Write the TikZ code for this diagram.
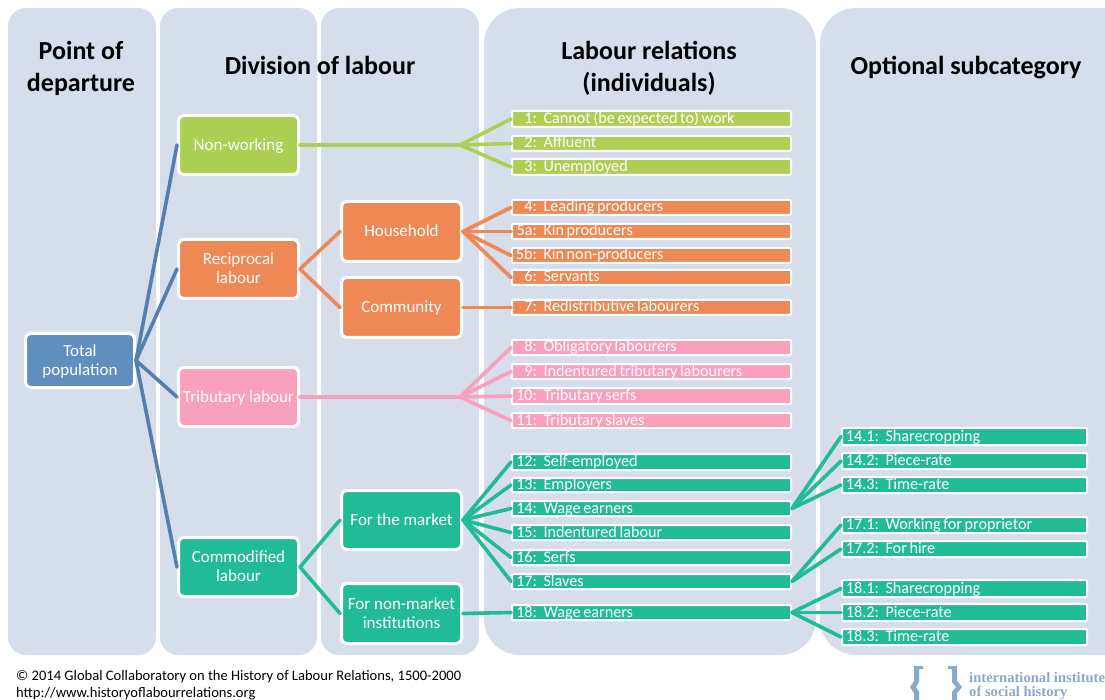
\documentclass[tikz,border=0pt]{standalone}
\usepackage{fontspec}
\setmainfont{Carlito}
\newfontfamily\logofont{Liberation Serif}
\definecolor{panel}{HTML}{D6DEEB}
\definecolor{cblue}{HTML}{5F8FBF}
\definecolor{lblue}{HTML}{5580AE}
\definecolor{cgreen}{HTML}{ADCF53}
\definecolor{corange}{HTML}{EE8855}
\definecolor{cpink}{HTML}{F8A0BC}
\definecolor{cteal}{HTML}{22BB98}
\definecolor{clogo}{HTML}{8AA8CC}
\tikzset{
  panelbox/.style={fill=panel,rounded corners=#1},
  titletext/.style={font=\fontsize{26}{32}\selectfont\bfseries,align=center,text=black,inner sep=0},
  bigstyle/.style={draw=white,line width=3pt,rounded corners=5pt,text=white,align=center,inner sep=0,font=\fontsize{17}{19}\selectfont},
  barstyle/.style={draw=white,line width=2pt,rounded corners=1pt,text=white,align=left,inner xsep=0,inner ysep=0,font=\fontsize{16.2}{17}\selectfont,text height=11pt,text depth=2pt},
  conn/.style={line width=3.6pt,line cap=round},
  foot/.style={font=\fontsize{14.57}{17}\selectfont,anchor=base west,inner sep=0},
  logotext/.style={font=\logofont\bfseries\fontsize{14.6}{14}\selectfont,text=clogo,anchor=base west,inner sep=0}
}
\newcommand{\bigbox}[7]{%
  \pgfmathsetmacro{\cx}{(#2+#4)/2}\pgfmathsetmacro{\cy}{(#3+#5)/2}%
  \pgfmathsetmacro{\ww}{#4-#2-3}\pgfmathsetmacro{\hh}{#5-#3-3}%
  \node[bigstyle,fill=#6,minimum width=\ww pt,minimum height=\hh pt] (#1) at (\cx,\cy) {\rule{0pt}{14pt}#7\rule[-3.5pt]{0pt}{3.5pt}};}
% name x1 y1 x2 y2 colour numberwidth number label
\newcommand{\barbox}[9]{%
  \pgfmathsetmacro{\cx}{(#2+#4)/2}\pgfmathsetmacro{\cy}{(#3+#5)/2}%
  \pgfmathsetmacro{\ww}{#4-#2-2}\pgfmathsetmacro{\hh}{#5-#3-2}%
  \node[barstyle,fill=#6,text width=\ww pt,minimum height=\hh pt] (#1) at (\cx,\cy) {\spaceskip=2.6pt\relax\makebox[#7pt][r]{#8}\hspace{6.5pt}#9};}
\newcommand{\lbar}[5]{\barbox{#1}{511}{#2}{792}{#3}{#4}{25}{#5}}
\newcommand{\rbar}[5]{\barbox{#1}{841}{#2}{1088}{#3}{#4}{37}{#5}}
\begin{document}
\begin{tikzpicture}[x=1pt,y=-1pt]
\useasboundingbox (0,0) rectangle (1105,700);
% panels
\fill[panelbox=18pt] (8,8) rectangle (156,655);
\fill[panelbox=18pt] (160,8) rectangle (317,655);
\fill[panelbox=18pt] (321,8) rectangle (479,655);
\fill[panelbox=36pt] (484,8) rectangle (816,655);
\fill[panelbox=36pt] (820,8) rectangle (1145,655);
% titles
\node[titletext] (t1) at (81,68) {Point of\\departure};
\node[titletext,anchor=base] (t2) at (320,74.5) {Division of labour};
\node[titletext] (t3) at (649,68) {Labour relations\\(individuals)};
\node[titletext,anchor=base] (t4) at (966,74.5) {Optional subcategory};
% boxes
\bigbox{total}{24}{332}{136}{389}{cblue}{Total\\population}
\bigbox{nonw}{177}{114}{300}{176}{cgreen}{Non-working}
\bigbox{recip}{177}{238}{300}{300}{corange}{Reciprocal\\labour}
\bigbox{trib}{177}{366}{300}{428}{cpink}{Tributary labour}
\bigbox{comm}{177}{536}{300}{598}{cteal}{Commodified\\labour}
\bigbox{house}{340}{200}{463}{263}{corange}{Household}
\bigbox{commu}{340}{276}{463}{339}{corange}{Community}
\bigbox{market}{340}{489}{463}{551}{cteal}{For the market}
\bigbox{nonmarket}{340}{582}{463}{645}{cteal}{For non-market\\institutions}
% middle bars
\lbar{a1}{110}{128}{cgreen}{1:}{Cannot (be expected to) work}
\lbar{a2}{135}{152}{cgreen}{2:}{Affluent}
\lbar{a3}{158}{176}{cgreen}{3:}{Unemployed}
\lbar{a4}{199}{216}{corange}{4:}{Leading producers}
\lbar{a5}{223}{240}{corange}{5a:}{Kin producers}
\lbar{a5b}{247}{264}{corange}{5b:}{Kin non-producers}
\lbar{a6}{269}{286}{corange}{6:}{Servants}
\lbar{a7}{299}{316}{corange}{7:}{Redistributive labourers}
\lbar{a8}{339}{356}{cpink}{8:}{Obligatory labourers}
\lbar{a9}{363}{380}{cpink}{9:}{Indentured tributary labourers}
\lbar{a10}{387}{405}{cpink}{10:}{Tributary serfs}
\lbar{a11}{412}{429}{cpink}{11:}{Tributary slaves}
\lbar{a12}{453}{471}{cteal}{12:}{Self-employed}
\lbar{a13}{477}{493}{cteal}{13:}{Employers}
\lbar{a14}{500}{517}{cteal}{14:}{Wage earners}
\lbar{a15}{524}{541}{cteal}{15:}{Indentured labour}
\lbar{a16}{549}{566}{cteal}{16:}{Serfs}
\lbar{a17}{573}{590}{cteal}{17:}{Slaves}
\lbar{a18}{604}{621}{cteal}{18:}{Wage earners}
% right bars
\rbar{b141}{427}{446}{cteal}{14.1:}{Sharecropping}
\rbar{b142}{452}{470}{cteal}{14.2:}{Piece-rate}
\rbar{b143}{476}{494}{cteal}{14.3:}{Time-rate}
\rbar{b171}{516}{534}{cteal}{17.1:}{Working for proprietor}
\rbar{b172}{540}{558}{cteal}{17.2:}{For hire}
\rbar{b181}{579}{598}{cteal}{18.1:}{Sharecropping}
\rbar{b182}{603}{622}{cteal}{18.2:}{Piece-rate}
\rbar{b183}{628}{646}{cteal}{18.3:}{Time-rate}
% fork points
\coordinate (fg) at (460,145);
\coordinate (fp) at (460,397);
% connectors
\foreach \t in {nonw,recip,trib,comm} \draw[conn,lblue] (total.east) -- (\t.west);
\draw[conn,cgreen] (nonw.east) -- (fg);
\foreach \t in {a1,a2,a3} \draw[conn,cgreen] (fg) -- (\t.west);
\foreach \t in {house,commu} \draw[conn,corange] (recip.east) -- (\t.west);
\foreach \t in {a4,a5,a5b,a6} \draw[conn,corange] (house.east) -- (\t.west);
\draw[conn,corange] (commu.east) -- (a7.west);
\draw[conn,cpink] (trib.east) -- (fp);
\foreach \t in {a8,a9,a10,a11} \draw[conn,cpink] (fp) -- (\t.west);
\foreach \t in {market,nonmarket} \draw[conn,cteal] (comm.east) -- (\t.west);
\foreach \t in {a12,a13,a14,a15,a16,a17} \draw[conn,cteal] (market.east) -- (\t.west);
\draw[conn,cteal] (nonmarket.east) -- (a18.west);
\foreach \t in {b141,b142,b143} \draw[conn,cteal] (a14.east) -- (\t.west);
\foreach \t in {b171,b172} \draw[conn,cteal] (a17.east) -- (\t.west);
\foreach \t in {b181,b182,b183} \draw[conn,cteal] (a18.east) -- (\t.west);
% footer
\node[foot] (f1) at (16,680) {© 2014 Global Collaboratory on the History of Labour Relations, 1500-2000};
\node[foot] (f2) at (16,697) {http://www.historyoflabourrelations.org};
% logo
\fill[clogo] (923,666) -- (914,666) -- (914,681) -- (910,687) -- (914,693) -- (914,700) -- (919,700) -- (919,692) -- (916,687) -- (919,682) -- (919,669) -- (923,669) -- cycle;
\fill[clogo] (948,666) -- (957,666) -- (957,681) -- (962,687) -- (957,693) -- (957,700) -- (952,700) -- (952,692) -- (956,687) -- (952,682) -- (952,669) -- (948,669) -- cycle;
\node[logotext] (l1) at (969,682) {international institute};
\node[logotext] (l2) at (969,696) {of social history};
\end{tikzpicture}
\end{document}
